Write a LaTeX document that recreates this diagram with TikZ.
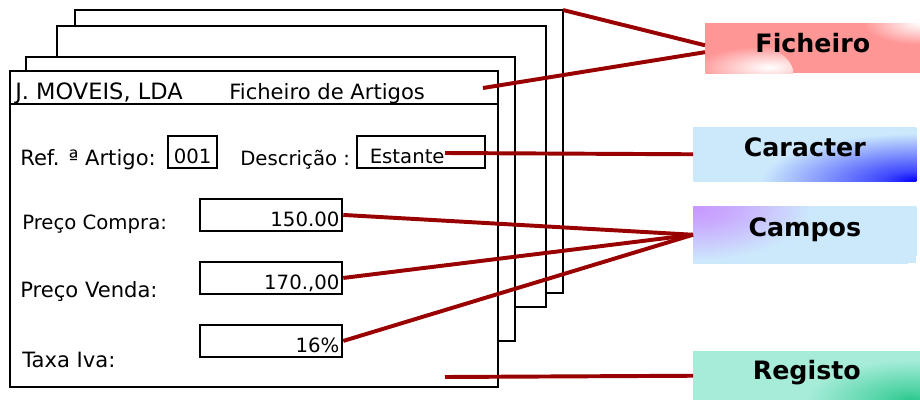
\documentclass[tikz,border=0pt]{standalone}
\usepackage{fontspec}
\setmainfont{DejaVu Sans}
\definecolor{linha}{RGB}{153,0,0}
\definecolor{rosa}{RGB}{255,150,150}
\definecolor{azulclaro}{RGB}{204,233,252}
\definecolor{menta}{RGB}{166,236,217}
\definecolor{verde}{RGB}{40,200,140}
\definecolor{lilas}{RGB}{200,150,255}
% sombreados dos cantos
\pgfdeclareradialshading{cantoazul}{\pgfpoint{0bp}{0bp}}{color(0bp)=(blue); color(2.5bp)=(blue!70!azulclaro); color(12bp)=(azulclaro); color(50bp)=(azulclaro)}
\pgfdeclareradialshading{cantoverde}{\pgfpoint{0bp}{0bp}}{color(0bp)=(verde); color(3bp)=(verde!70!menta); color(12bp)=(menta); color(50bp)=(menta)}
\pgfdeclareradialshading{cantolilas}{\pgfpoint{0bp}{0bp}}{color(0bp)=(lilas); color(4bp)=(lilas!75!azulclaro); color(12bp)=(azulclaro); color(50bp)=(azulclaro)}
\pgfdeclareradialshading{cantobranco}{\pgfpoint{0bp}{0bp}}{color(0bp)=(white); color(12bp)=(rosa); color(50bp)=(rosa)}
\tikzset{
  folha/.style = {draw, line width=1.5pt, fill=white},
  caixa/.style = {draw, line width=1.6pt, inner ysep=0pt, inner xsep=2pt,
    text height=19.5pt, text depth=3pt, anchor=north west,
    font=\fontsize{14}{16}\selectfont},
  rotulo/.style = {anchor=base west, inner sep=0pt, font=\fontsize{15}{17}\selectfont},
  seta/.style = {linha, line width=2.8pt},
  etiqueta/.style = {inner sep=0pt, anchor=north west, minimum width=5.575cm,
    font=\bfseries\fontsize{18}{20}\selectfont}
}

\begin{document}
\begin{tikzpicture}[x=0.025cm, y=-0.025cm]
\useasboundingbox (0,0) rectangle (920,400);

% folhas de tras
\foreach \a/\b/\c/\d in {75/10/563/293, 57/26/546/307, 26/57/515/341}
  \draw[folha] (\a,\b) rectangle (\c,\d);
\coordinate (canto) at (563,10);

% folha da frente
\draw[folha] (10,71) rectangle (498,387);
\draw[line width=1.5pt] (10,104) -- (498,104);

% cabecalho
\node[rotulo, font=\fontsize{16}{18}\selectfont] (empresa) at (15,100) {J. MOVEIS, LDA};
\node[rotulo] (titulo) at (229,100) {Ficheiro de Artigos};
\coordinate (cabec) at (483,88);

% campos do registo
\node[rotulo] (ref) at (20,166) {Ref. ª Artigo:};
\node[caixa, text width=1.225cm-4pt, align=center] (cod) at (167,135) {001};
\node[rotulo, font=\fontsize{14}{16}\selectfont] (desc) at (240,166) {Descrição :};
\node[caixa, inner xsep=9pt, text width=3.2cm-18pt, align=left] (est) at (356,135) {Estante};
\coordinate (car0) at (445,153);

\node[rotulo, font=\fontsize{14}{16}\selectfont] (compra) at (22,230) {Preço Compra:};
\node[rotulo] (venda) at (20,297) {Preço Venda:};
\node[rotulo] (taxa) at (22,367) {Taxa Iva:};
\node[caixa, text width=3.55cm-4pt, align=right] (v1) at (199,198) {150.00};
\node[caixa, text width=3.55cm-4pt, align=right] (v2) at (199,261) {170.,00};
\node[caixa, text width=3.55cm-4pt, align=right] (v3) at (199,324) {16\%};
\coordinate (reg0) at (445,377);

% etiquetas
\node[etiqueta, minimum width=5.375cm, text height=20.6pt, text depth=14.9pt, fill=rosa,
  path picture={
    \shade[shading=cantobranco] (path picture bounding box.south west) ellipse (2.2cm and 0.95cm);
    \shade[shading=cantobranco] (path picture bounding box.north east) ellipse (2.95cm and 1.1cm);
  }] (fich) at (705,23) {Ficheiro};
\node[etiqueta, text height=20.6pt, text depth=17.8pt, fill=azulclaro,
  path picture={
    \shade[shading=cantoazul] (path picture bounding box.south east) ellipse (8.1cm and 2.5cm);
  }] (car) at (693,127) {Caracter};
\node[etiqueta, text height=21.3pt, text depth=19.2pt, fill=azulclaro,
  path picture={
    \shade[shading=cantolilas] (path picture bounding box.north west) ellipse (6.2cm and 2.85cm);
  }] (cam) at (693,206) {Campos};
\node[etiqueta, minimum width=5.675cm, text height=19.9pt, text depth=14.9pt, fill=menta,
  path picture={
    \shade[shading=cantoverde] (path picture bounding box.south east) ellipse (5.2cm and 2.1cm);
  }] (reg) at (693,351) {Registo};

% ligacoes
\draw[seta] (canto) -- ([yshift=2.1pt]fich.west);
\draw[seta] (cabec) -- ([yshift=-2.8pt]fich.west);
\draw[seta] (car0) -- (car.west);
\foreach \v in {v1,v2,v3}
  \draw[seta] (\v.east) -- (cam.west);
\draw[seta] (reg0) -- (reg.west);
\end{tikzpicture}
\end{document}
